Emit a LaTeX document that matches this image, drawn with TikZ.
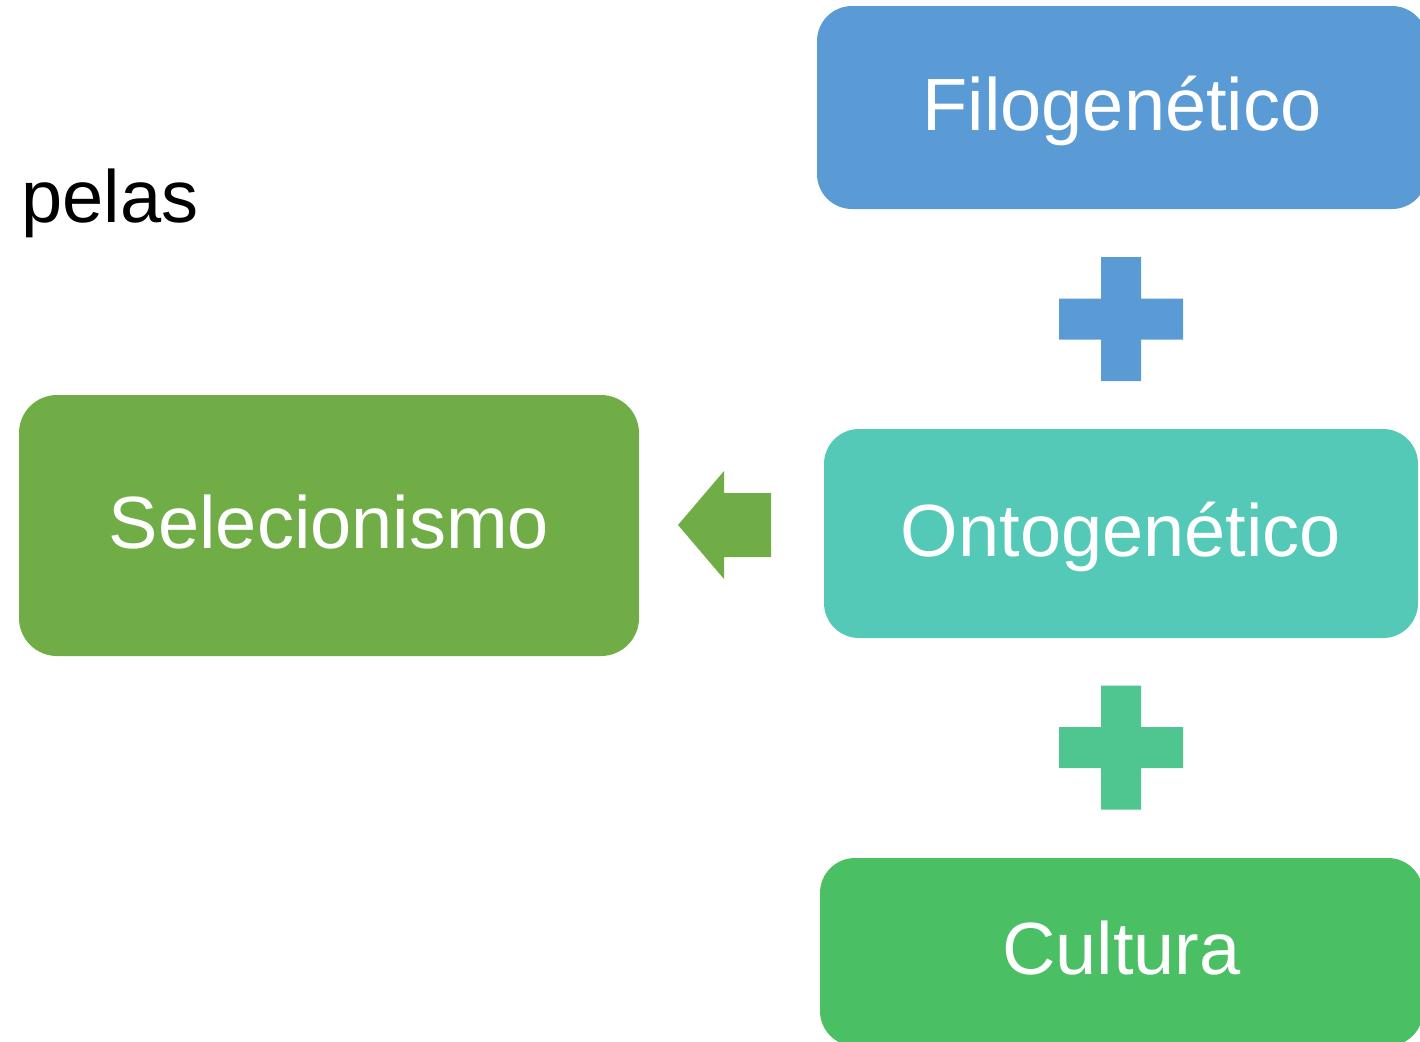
\documentclass[tikz,border=0pt]{standalone}
\usepackage{fontspec}
\setmainfont{Liberation Sans}
\usepackage{xcolor}
\usetikzlibrary{positioning}
\definecolor{filoblue}{HTML}{5B9BD5}
\definecolor{ontoteal}{HTML}{55C9B8}
\definecolor{cultgreen}{HTML}{4ABF64}
\definecolor{plusgreen}{HTML}{4FC58F}
\definecolor{selgreen}{HTML}{70AD47}
\tikzset{
    block/.style={rectangle,rounded corners=17.5pt,inner sep=0pt,text=white,
        font=\fontsize{37}{44}\selectfont,text height=26.5pt,text depth=4pt}
}

\begin{document}
\begin{tikzpicture}[x=0.5pt,y=-0.5pt]
    \clip (0,0) rectangle (1420,1041);
    \node[anchor=base west,inner sep=0pt,font=\fontsize{37}{44}\selectfont] (pelas) at (21,222) {pelas};

    \node[block,fill=filoblue,minimum width=305pt,minimum height=101.5pt] (filo) at (1122,107.5) {Filogenético};
    \node[block,fill=ontoteal,minimum width=297pt,minimum height=104.5pt] (onto) at (1121,533.5) {Ontogenético};
    \node[block,fill=cultgreen,minimum width=301.5pt,minimum height=94pt] (cult) at (1121.5,952) {Cultura};
    \node[block,fill=selgreen,rounded corners=19pt,minimum width=310pt,minimum height=130.5pt] (sel) at (329,525.5) {Selecionismo};

    % plus signs between the boxes
    \foreach \c/\y in {filoblue/319,plusgreen/747.5}
        \fill[\c] (1101,\y-62) rectangle (1141,\y+62)
                  (1059,\y-20.5) rectangle (1183,\y+20.5);

    % block arrow
    \fill[selgreen] (678,525) -- (724,471) -- (724,493) -- (771,493)
        -- (771,557) -- (724,557) -- (724,579) -- cycle;
\end{tikzpicture}
\end{document}
